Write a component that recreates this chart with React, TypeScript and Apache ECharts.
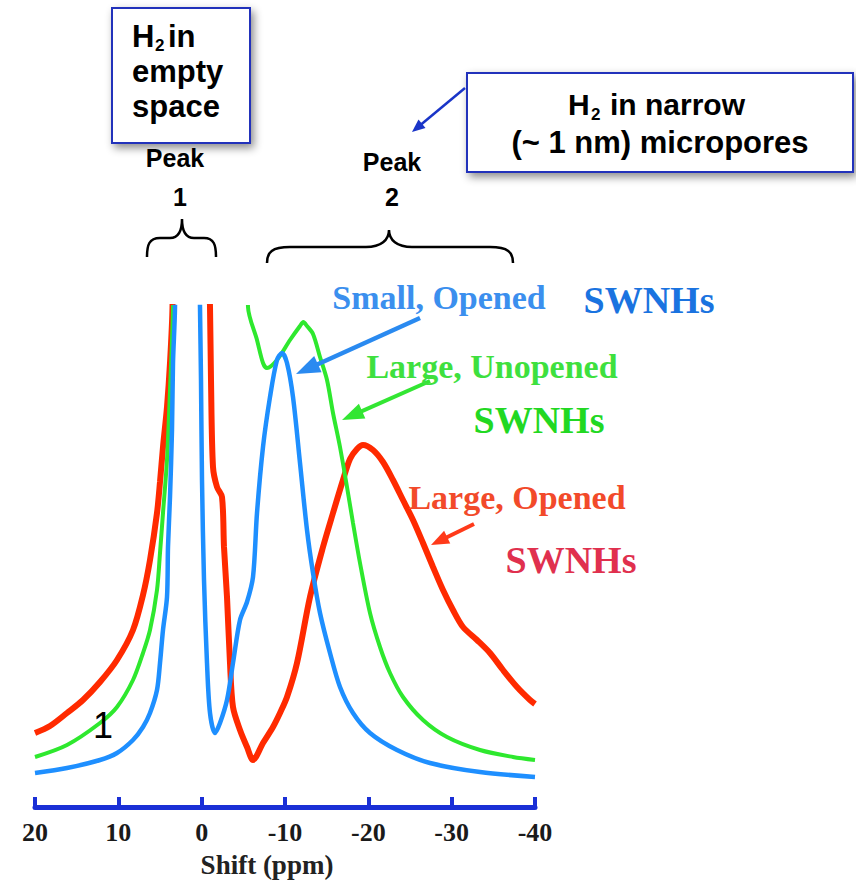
import React, { useEffect, useRef } from "react";
import * as echarts from "echarts";

// ---------- data (chemical shift in ppm, intensity in arbitrary units; 100 = top of plot) ----------
const redPpm = [20, 18.2, 16.16, 14.24, 12.2, 10.16, 8.24, 7.04, 6.2, 5.36, 5.0, 4.64, 4.16, 3.8, 3.5, 1.5, -1.0, -1.12, -1.36, -1.84, -2.44, -2.68, -3.04, -3.4, -3.76, -4.6, -5.44, -6.16, -7.36, -8.56, -9.4, -10.24, -11.44, -13.0, -14.56, -15.76, -16.96, -17.8, -18.64, -19.36, -20.56, -21.76, -22.96, -24.16, -25.36, -26.56, -27.76, -28.96, -30.16, -31.36, -33.04, -34.6, -36.16, -37.84, -39.4, -40];
const redVal = [14.8, 16.2, 18.8, 21.4, 25.0, 29.4, 35.4, 42.4, 49.4, 58.8, 65.0, 72.0, 80.0, 88.8, 100, 300, 100, 85.4, 68.0, 64.0, 62.0, 52.0, 42.0, 28.8, 20.0, 15.4, 12.0, 9.4, 12.8, 16.0, 18.8, 22.0, 28.8, 42.0, 52.0, 58.8, 65.4, 69.6, 71.6, 72.4, 71.4, 69.0, 65.4, 61.4, 57.4, 52.8, 48.0, 43.4, 39.4, 36.0, 33.4, 30.8, 27.4, 24.0, 21.4, 20.6];

const greenPpm = [20, 16.16, 12.2, 10.16, 8.24, 7.04, 6.2, 5.36, 5.0, 4.64, 4.16, 3.8, 3.44, 1.5, -2.0, -5.56, -6.64, -7.36, -7.84, -9.04, -10.6, -11.8, -12.2, -12.64, -13.36, -14.2, -15.04, -15.76, -16.6, -17.44, -18.16, -19.0, -20.2, -21.4, -22.6, -24.16, -26.56, -29.44, -33.4, -37.36, -40];
const greenVal = [10.0, 12.4, 16.8, 20.0, 25.4, 30.8, 35.4, 43.4, 50.8, 58.8, 69.4, 83.4, 100, 300, 300, 100, 93.4, 88.8, 87.8, 89.4, 93.4, 96.2, 97.0, 96.2, 94.6, 90.0, 85.4, 78.8, 72.0, 64.0, 56.8, 48.8, 38.8, 32.0, 26.8, 22.0, 17.4, 14.0, 11.4, 10.0, 9.4];

const bluePpm = [20, 16.16, 12.2, 10.16, 8.24, 7.04, 6.2, 5.36, 5.0, 4.64, 4.16, 4.04, 3.8, 3.56, 3.44, 3.2, 1.8, 0.2, 0.08, -0.04, -0.28, -0.64, -1.0, -1.6, -2.2, -3.04, -3.76, -4.6, -5.44, -6.16, -6.64, -7.36, -8.2, -9.04, -9.64, -10.24, -10.96, -11.8, -12.64, -13.36, -14.2, -15.4, -16.6, -18.16, -20.2, -23.44, -27.4, -33.4, -40];
const blueVal = [6.8, 7.8, 9.4, 10.8, 13.4, 16.0, 18.8, 23.4, 28.8, 35.4, 42.0, 52.0, 62.0, 75.4, 88.8, 100, 300, 100, 85.4, 65.4, 45.4, 28.8, 18.8, 14.8, 16.8, 21.4, 28.8, 37.4, 41.0, 46.0, 58.8, 72.0, 82.0, 89.4, 90.8, 88.8, 82.0, 68.8, 55.4, 46.8, 38.8, 30.8, 24.0, 18.8, 14.8, 11.4, 8.8, 7.0, 6.0];

const xMin = -40;
const xMax = 20;
const xInterval = 10;
const yMin = 0;
const yMax = 100;

const RED = "#ff2a00";
const GREEN = "#2ee82e";
const BLUE = "#1e8fff";
const AXIS_BLUE = "#1a2fd6";

const SANS = "'Liberation Sans', Arial, sans-serif";
const SERIF = "'Liberation Serif', 'Times New Roman', serif";

// braces
const brace1 =
  "M147 257 C147 245 149 238 160 238 L170 238 C178 238 182 232 182 219 C182 232 186 238 194 238 L204 238 C214 238 216 245 216 257";
const brace2 =
  "M267 263 C267 252 272 247 290 247 L366 247 C381 247 389 240 389 230 C389 240 397 247 412 247 L490 247 C508 247 513 252 513 263";

let registered = false;
function registerShapes() {
  if (registered) return;
  registered = true;
  echarts.graphic.registerShape("brace1", echarts.graphic.extendPath(brace1, {}));
  echarts.graphic.registerShape("brace2", echarts.graphic.extendPath(brace2, {}));
}

function arrow(x1: number, y1: number, x2: number, y2: number, color: string, lw: number, hl: number, hw: number) {
  const dx = x2 - x1;
  const dy = y2 - y1;
  const L = Math.hypot(dx, dy);
  const ux = dx / L;
  const uy = dy / L;
  const bx = x2 - ux * hl;
  const by = y2 - uy * hl;
  const px = -uy;
  const py = ux;
  return [
    {
      type: "line",
      shape: { x1, y1, x2: bx + ux * 2, y2: by + uy * 2 },
      style: { stroke: color, lineWidth: lw },
      z: 100,
    },
    {
      type: "polygon",
      shape: {
        points: [
          [x2, y2],
          [bx + (px * hw) / 2, by + (py * hw) / 2],
          [bx - (px * hw) / 2, by - (py * hw) / 2],
        ],
      },
      style: { fill: color },
      z: 100,
    },
  ];
}

function txt(text: string, x: number, y: number, size: number, opts: any = {}) {
  return {
    type: "text",
    x,
    y,
    z: 101,
    style: {
      text,
      fontSize: size,
      fontWeight: opts.weight ?? "bold",
      fontFamily: opts.family ?? SANS,
      fill: opts.color ?? "#000",
      align: opts.align ?? "center",
      verticalAlign: "middle",
    },
  };
}

const pairs = (xs: number[], ys: number[]) => xs.map((x, i) => [x, ys[i]]);

export default function App() {
  const ref = useRef<HTMLDivElement>(null);
  useEffect(() => {
    if (!ref.current) return;
    registerShapes();
    const chart = echarts.init(ref.current, undefined, { renderer: "svg" });
    const boxStyle = {
      fill: "#fff",
      stroke: "#2233bb",
      lineWidth: 2,
      shadowBlur: 8,
      shadowOffsetX: 3,
      shadowOffsetY: 4,
      shadowColor: "rgba(0,0,0,0.45)",
    };
    const graphic: any[] = [
      { type: "rect", shape: { x: 112, y: 8, width: 138, height: 135 }, style: boxStyle, z: 90 },
      txt("H", 132, 36, 31, { align: "left" }),
      txt("2", 155, 45, 17, { align: "left" }),
      txt("in", 168, 36, 31, { align: "left" }),
      txt("empty", 132, 71, 31, { align: "left" }),
      txt("space", 132, 106, 31, { align: "left" }),

      { type: "rect", shape: { x: 467, y: 73, width: 386, height: 99 }, style: boxStyle, z: 90 },
      txt("H", 568, 104, 30, { align: "left" }),
      txt("2", 591, 114, 17, { align: "left" }),
      txt("in narrow", 610, 104, 30, { align: "left" }),
      txt("(~ 1 nm) micropores", 660, 142, 31),

      txt("Peak", 175, 158, 25),
      txt("1", 180, 197, 25),
      txt("Peak", 392, 162, 25),
      txt("2", 392, 197, 25),

      { type: "brace1", x: 0, y: 0, style: { stroke: "#000", fill: "none", lineWidth: 2.5 }, z: 100 },
      { type: "brace2", x: 0, y: 0, style: { stroke: "#000", fill: "none", lineWidth: 2.5 }, z: 100 },

      ...arrow(465, 88, 412, 132, "#1a35c8", 2.5, 13, 11),
      ...arrow(420, 318, 296, 374, "#2a8af0", 4.5, 24, 18),
      ...arrow(430, 381, 342, 420, "#33e633", 4, 22, 16),
      ...arrow(474, 524, 431, 545, "#ff3a1a", 4, 18, 14),

      txt("Small, Opened", 439, 297, 34, { family: SERIF, color: "#3b8fee" }),
      txt("SWNHs", 649, 300, 38, { family: SERIF, color: "#1a73e0" }),
      txt("Large, Unopened", 492, 366, 34, { family: SERIF, color: "#3ee03e" }),
      txt("SWNHs", 539, 420, 38, { family: SERIF, color: "#22d822" }),
      txt("Large, Opened", 517, 497, 34, { family: SERIF, color: "#f24a2a" }),
      txt("SWNHs", 571, 560, 38, { family: SERIF, color: "#e0304e" }),

      txt("1", 103, 725, 36, { weight: "normal" }),
      txt("Shift (ppm)", 267, 865, 27, { family: SERIF, color: "#222" }),
    ];

    chart.setOption({
      animation: false,
      backgroundColor: "#fff",
      grid: { left: 35, right: 321, top: 307, bottom: 79, containLabel: false },
      xAxis: {
        type: "value",
        min: xMin,
        max: xMax,
        interval: xInterval,
        inverse: true,
        splitLine: { show: false },
        axisLine: { show: true, onZero: false, lineStyle: { color: AXIS_BLUE, width: 5 } },
        axisTick: { show: true, inside: true, length: 10, lineStyle: { color: AXIS_BLUE, width: 4 } },
        axisLabel: {
          color: "#1a1a1a",
          fontSize: 26,
          fontWeight: "bold",
          fontFamily: SERIF,
          margin: 12,
          showMinLabel: true,
          showMaxLabel: true,
        },
      },
      yAxis: {
        type: "value",
        min: yMin,
        max: yMax,
        show: false,
      },
      series: [
        {
          type: "line",
          data: pairs(redPpm, redVal),
          showSymbol: false,
          smooth: 0.3,
          clip: true,
          lineStyle: { color: RED, width: 6 },
          z: 2,
        },
        {
          type: "line",
          data: pairs(greenPpm, greenVal),
          showSymbol: false,
          smooth: 0.3,
          clip: true,
          lineStyle: { color: GREEN, width: 4 },
          z: 3,
        },
        {
          type: "line",
          data: pairs(bluePpm, blueVal),
          showSymbol: false,
          smooth: 0.3,
          clip: true,
          lineStyle: { color: BLUE, width: 4.5 },
          z: 4,
        },
      ],
      graphic,
    });
    return () => chart.dispose();
  }, []);
  return <div ref={ref} style={{ position: "absolute", left: 0, top: 0, width: 856, height: 886 }} />;
}
